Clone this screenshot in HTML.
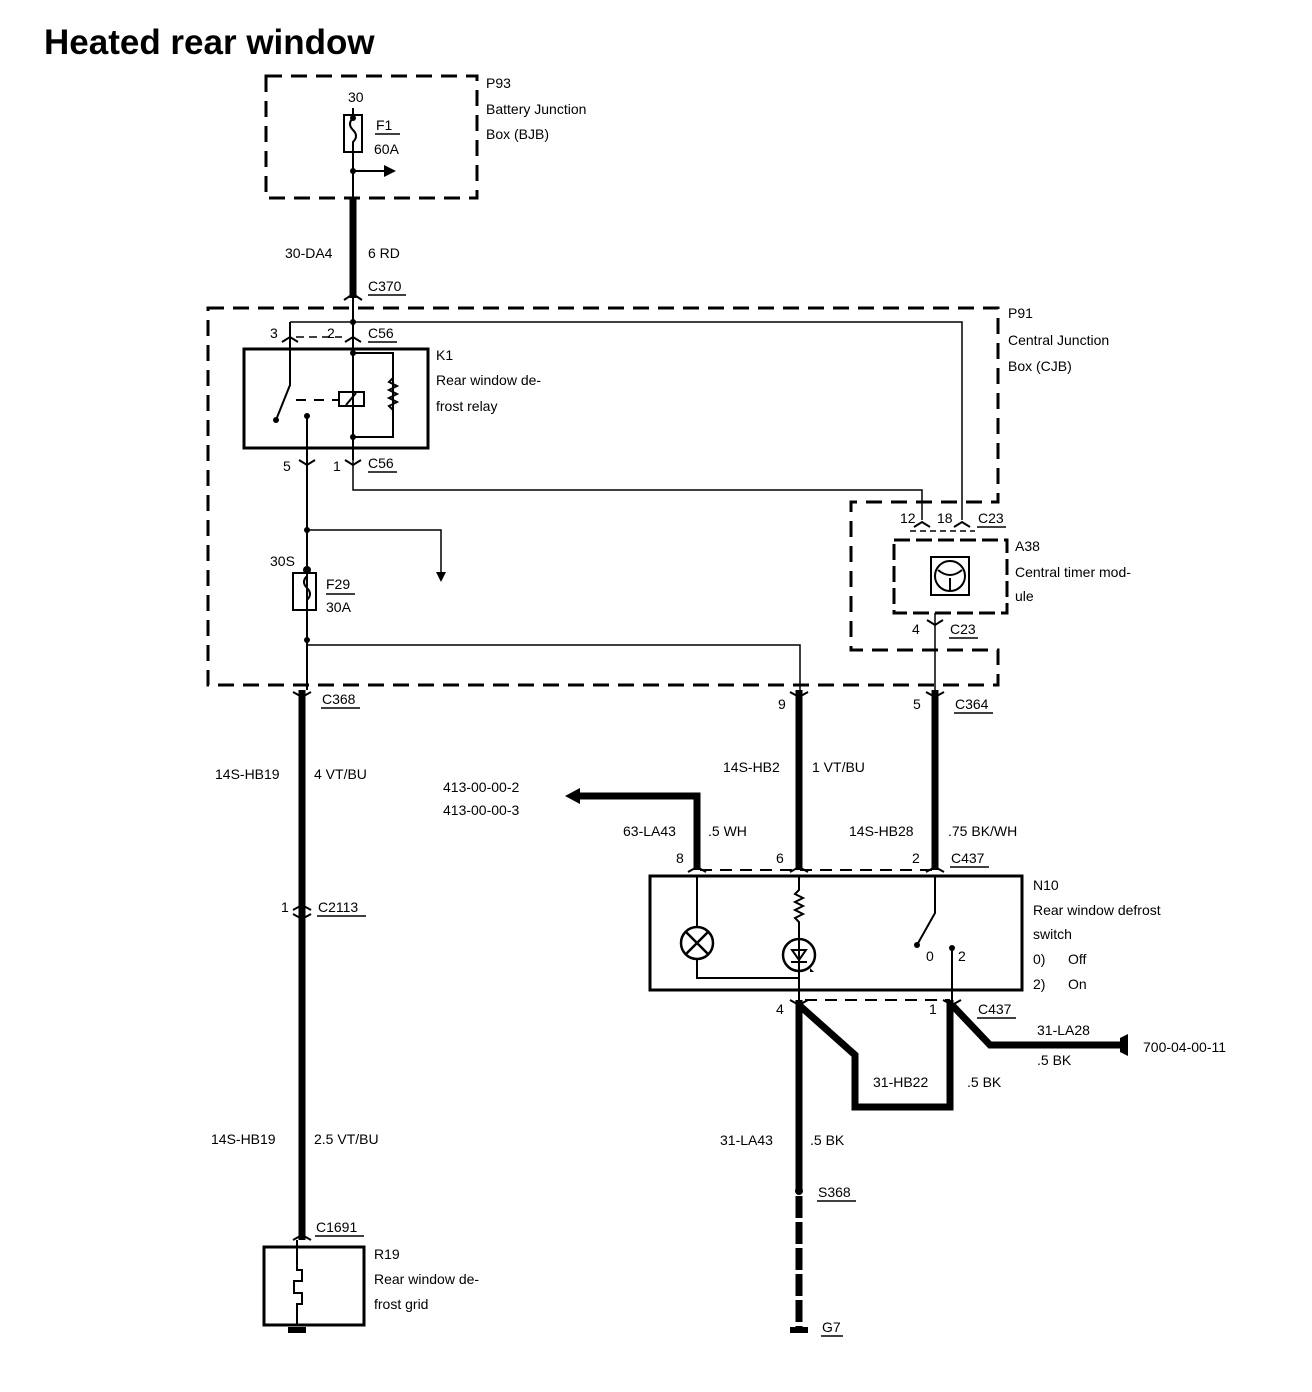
<!DOCTYPE html>
<html><head><style>
html,body{margin:0;padding:0;background:#fff;}
svg{display:block;}
text{font-family:"Liberation Sans",sans-serif;font-size:14px;fill:#000;}
.t{font-size:35px;font-weight:bold;}
</style></head><body>
<svg width="1312" height="1392" viewBox="0 0 1312 1392" xmlns="http://www.w3.org/2000/svg">
<text x="44" y="54" class="t">Heated rear window</text>
<g fill="none" stroke="#000">
<rect x="266" y="76" width="211" height="122" stroke-width="3" stroke-dasharray="16,9"/>
<rect x="344" y="115" width="18" height="37" stroke-width="2"/>
<path d="M353 108V115 M353 152V198 M353 171H392" stroke-width="2"/>
<path d="M353 118q-6 6 0 12q6 6 0 12v10" stroke-width="2"/>
<path d="M353 198V298" stroke-width="7"/>
<path d="M208 308H998V502H851V650H998V685H208Z" stroke-width="3" stroke-dasharray="16,9"/>
<path d="M290 322H962V520" stroke-width="1.5"/>
<path d="M353 298V340 M290 322V340" stroke-width="2"/>
<path d="M296 337H342" stroke-width="1.5" stroke-dasharray="8,5"/>
<rect x="244" y="349" width="184" height="99" stroke-width="3"/>
<path d="M290 340V385L276 420 M353 340V460 M353 353H393V437H353 M307 416V690" stroke-width="2"/>
<path d="M296 400H338" stroke-width="2" stroke-dasharray="10,8"/>
<rect x="339" y="392" width="25" height="14" stroke-width="2"/>
<path d="M346 405L356 393" stroke-width="2"/>
<path d="M393 378l-4 4l8 4l-8 4l8 4l-8 4l8 4l-8 4l4 4" stroke-width="2"/>
<path d="M353 460V490H922V520" stroke-width="1.5"/>
<path d="M307 530H441V575" stroke-width="1.5"/>
<rect x="293" y="573" width="23" height="37" stroke-width="2"/>
<path d="M307 576q-6 6 0 12q6 6 0 12v10" stroke-width="2"/>
<path d="M307 645H800V690" stroke-width="1.5"/>
<path d="M910 531H975" stroke-width="1.5" stroke-dasharray="6,4"/>
<rect x="894" y="540" width="113" height="73" stroke-width="3" stroke-dasharray="16,6"/>
<rect x="931" y="557" width="38" height="38" stroke-width="2"/>
<circle cx="950" cy="576" r="15" stroke-width="2"/>
<path d="M938 570q12 10 24 0 M950 578V590" stroke-width="2"/>
<path d="M935 613V690" stroke-width="1.5"/>
<path d="M302 690V1240" stroke-width="7"/>
<path d="M799 690V870 M935 690V870" stroke-width="7"/>
<path d="M697 870V796H575" stroke-width="7"/>
<path d="M700 870H940" stroke-width="2" stroke-dasharray="12,8"/>
<rect x="650" y="876" width="372" height="114" stroke-width="3"/>
<path d="M697 876V927 M697 959V978H799" stroke-width="2"/>
<circle cx="697" cy="943" r="16" stroke-width="2.5"/>
<path d="M686 932L708 954M708 932L686 954" stroke-width="2.5"/>
<path d="M799 876V890l-4 4l8 4l-8 4l8 4l-8 4l8 4l-8 4l4 4V1000" stroke-width="2"/>
<circle cx="799" cy="955" r="16" stroke-width="2.5"/>
<path d="M792 950H806L799 960Z M791 962H807" stroke-width="2"/>
<path d="M935 876V913L917 945 M952 948V1000" stroke-width="2"/>
<path d="M805 1000H950" stroke-width="2" stroke-dasharray="12,8"/>
<path d="M799 1000V1170" stroke-width="7"/>
<path d="M799 1170V1332" stroke-width="7" stroke-dasharray="22,4"/>
<path d="M799 1005L855 1055V1107H950V1000" stroke-width="7" stroke-linejoin="miter"/>
<path d="M952 1005L990 1045H1120" stroke-width="7"/>
<rect x="264" y="1247" width="100" height="78" stroke-width="3"/>
<path d="M297 1240V1270h5v11h-8v12h8v11h-5V1325" stroke-width="2"/>
</g>
<g fill="#000">
<circle cx="353" cy="171" r="3"/><path d="M384 165L396 171L384 177Z"/>
<circle cx="353" cy="118" r="3"/>
<circle cx="353" cy="322" r="3"/><circle cx="353" cy="353" r="3"/><circle cx="353" cy="437" r="3"/>
<circle cx="276" cy="420" r="3"/><circle cx="307" cy="416" r="3"/>
<circle cx="307" cy="530" r="3"/><circle cx="307" cy="570" r="4"/><circle cx="307" cy="640" r="3"/>
<path d="M436 572L446 572L441 582Z"/>
<path d="M565 796L580 788V804Z"/>
<circle cx="917" cy="945" r="3"/><circle cx="952" cy="948" r="3"/>
<circle cx="799" cy="1191" r="4"/>
<path d="M1120 1038V1052L1128 1056V1034Z"/>
<rect x="288" y="1327" width="18" height="6"/><rect x="790" y="1327" width="18" height="6"/>
<path d="M810 968l4 4l-4 0z"/>
</g>
<g stroke="#000" stroke-width="2" fill="none">
<path d="M344 300l9-6l9 6 M282 342l8-5l8 5 M345 342l8-5l8 5 M299 460l8 5l8-5 M345 460l8 5l8-5 M914 527l8-5l8 5 M954 527l8-5l8 5 M927 620l8 5l8-5 M293 692l9 5l9-5 M790 692l9 5l9-5 M926 692l9 5l9-5 M293 910l9-5l9 5 M293 914l9 5l9-5 M688 872l9-5l9 5 M790 872l9-5l9 5 M926 872l9-5l9 5 M790 1000l9 5l9-5 M943 1000l9 5l9-5 M293 1240l9-5l9 5"/>
</g>
<text x="486" y="88">P93</text><text x="486" y="114">Battery Junction</text><text x="486" y="139">Box (BJB)</text>
<text x="348" y="102">30</text>
<text x="376" y="130">F1</text><path d="M375 134H400" stroke="#000" stroke-width="1.5"/><text x="374" y="154">60A</text>
<text x="285" y="258">30-DA4</text><text x="368" y="258">6 RD</text>
<text x="368" y="291">C370</text><path d="M368 295H406" stroke="#000" stroke-width="1.5"/>
<text x="1008" y="318">P91</text><text x="1008" y="345">Central Junction</text><text x="1008" y="371">Box (CJB)</text>
<text x="270" y="338">3</text><text x="327" y="338">2</text>
<text x="368" y="338">C56</text><path d="M368 342H397" stroke="#000" stroke-width="1.5"/>
<text x="436" y="360">K1</text><text x="436" y="385">Rear window de-</text><text x="436" y="411">frost relay</text>
<text x="283" y="471">5</text><text x="333" y="471">1</text>
<text x="368" y="468">C56</text><path d="M368 472H397" stroke="#000" stroke-width="1.5"/>
<text x="270" y="566">30S</text>
<text x="326" y="589">F29</text><path d="M326 594H355" stroke="#000" stroke-width="1.5"/><text x="326" y="612">30A</text>
<text x="900" y="523">12</text><text x="937" y="523">18</text>
<text x="978" y="523">C23</text><path d="M977 527H1006" stroke="#000" stroke-width="1.5"/>
<text x="1015" y="551">A38</text><text x="1015" y="577">Central timer mod-</text><text x="1015" y="601">ule</text>
<text x="912" y="634">4</text><text x="950" y="634">C23</text><path d="M949 638H978" stroke="#000" stroke-width="1.5"/>
<text x="322" y="704">C368</text><path d="M321 708H360" stroke="#000" stroke-width="1.5"/>
<text x="778" y="709">9</text><text x="913" y="709">5</text>
<text x="955" y="709">C364</text><path d="M954 713H993" stroke="#000" stroke-width="1.5"/>
<text x="215" y="779">14S-HB19</text><text x="314" y="779">4 VT/BU</text>
<text x="723" y="772">14S-HB2</text><text x="812" y="772">1 VT/BU</text>
<text x="443" y="792">413-00-00-2</text><text x="443" y="815">413-00-00-3</text>
<text x="623" y="836">63-LA43</text><text x="708" y="836">.5 WH</text>
<text x="849" y="836">14S-HB28</text><text x="948" y="836">.75 BK/WH</text>
<text x="676" y="863">8</text><text x="776" y="863">6</text><text x="912" y="863">2</text>
<text x="951" y="863">C437</text><path d="M950 867H989" stroke="#000" stroke-width="1.5"/>
<text x="1033" y="890">N10</text><text x="1033" y="915">Rear window defrost</text><text x="1033" y="939">switch</text>
<text x="1033" y="964">0)</text><text x="1068" y="964">Off</text><text x="1033" y="989">2)</text><text x="1068" y="989">On</text>
<text x="926" y="961">0</text><text x="958" y="961">2</text>
<text x="281" y="912">1</text><text x="318" y="912">C2113</text><path d="M317 916H366" stroke="#000" stroke-width="1.5"/>
<text x="776" y="1014">4</text><text x="929" y="1014">1</text>
<text x="978" y="1014">C437</text><path d="M977 1018H1016" stroke="#000" stroke-width="1.5"/>
<text x="1037" y="1035">31-LA28</text><text x="1037" y="1065">.5 BK</text><text x="1143" y="1052">700-04-00-11</text>
<text x="873" y="1087">31-HB22</text><text x="967" y="1087">.5 BK</text>
<text x="720" y="1145">31-LA43</text><text x="810" y="1145">.5 BK</text>
<text x="211" y="1144">14S-HB19</text><text x="314" y="1144">2.5 VT/BU</text>
<text x="818" y="1197">S368</text><path d="M817 1201H856" stroke="#000" stroke-width="1.5"/>
<text x="822" y="1332">G7</text><path d="M821 1336H843" stroke="#000" stroke-width="1.5"/>
<text x="316" y="1232">C1691</text><path d="M315 1236H364" stroke="#000" stroke-width="1.5"/>
<text x="374" y="1259">R19</text><text x="374" y="1284">Rear window de-</text><text x="374" y="1309">frost grid</text>
</svg>
</body></html>
